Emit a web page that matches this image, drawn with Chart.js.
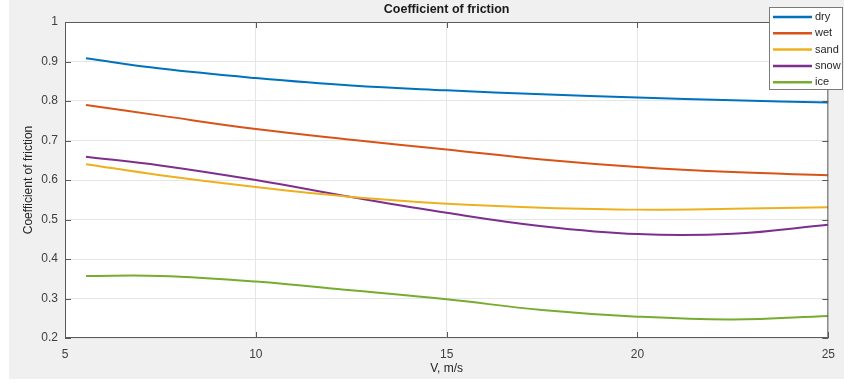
<!DOCTYPE html>
<html>
<head>
<meta charset="utf-8">
<script src="https://cdn.jsdelivr.net/npm/chart.js@4/dist/chart.umd.min.js"></script>
<style>
    html, body { margin: 0; padding: 0; background: #ffffff; }
    #wrap { position: relative; width: 844px; height: 385px; }
</style>
</head>
<body>
<div id="wrap"><canvas id="frictionChart" width="844" height="385"></canvas></div>
<script>
const speeds = [5.55, 7.5, 10, 12.5, 15, 17.5, 20, 22.5, 25];

// Coefficient of friction per surface
const dry  = [0.908, 0.882, 0.858, 0.839, 0.827, 0.817, 0.809, 0.802, 0.796];
const wet  = [0.790, 0.763, 0.729, 0.702, 0.677, 0.652, 0.633, 0.620, 0.612];
const sand = [0.640, 0.612, 0.582, 0.557, 0.540, 0.530, 0.525, 0.527, 0.531];
const snow = [0.659, 0.637, 0.600, 0.557, 0.517, 0.483, 0.463, 0.464, 0.487];
const ice  = [0.357, 0.357, 0.343, 0.321, 0.298, 0.271, 0.254, 0.247, 0.256];

const surfaces = ["dry", "wet", "sand", "snow", "ice"];
const surfaceColors = ["#0072BD", "#D95319", "#EDB120", "#7E2F8E", "#77AC30"];

// Axis ticks
const xTicks = [5, 10, 15, 20, 25];
const yTicks = [0.2, 0.3, 0.4, 0.5, 0.6, 0.7, 0.8, 0.9, 1];

const chartTitle = "Coefficient of friction";
const FONT = "'Liberation Sans', Arial, Helvetica, sans-serif";

function toPoints(values) {
    return values.map((v, i) => ({ x: speeds[i], y: v }));
}

const seriesValues = [dry, wet, sand, snow, ice];

// Matlab-like figure: grey frame, white axes, box with inward ticks, legend box
const matlabLook = {
    id: "matlabLook",
    beforeDraw(chart) {
        const { ctx, chartArea: a } = chart;
        ctx.save();
        ctx.fillStyle = "#ffffff";
        ctx.fillRect(0, 0, chart.width, chart.height);
        ctx.fillStyle = "#f0f0f0";
        ctx.fillRect(9, 0, chart.width - 9, 379);
        ctx.fillStyle = "#ffffff";
        ctx.fillRect(a.left, a.top, a.right - a.left, a.bottom - a.top);
        ctx.restore();
    },
    afterDraw(chart) {
        const { ctx, chartArea: a, scales } = chart;
        ctx.save();

        // box + inward ticks
        ctx.strokeStyle = "#5a5a5a";
        ctx.lineWidth = 1;
        ctx.beginPath();
        ctx.rect(a.left + 0.5, a.top + 0.5, a.right - a.left - 1, a.bottom - a.top - 1);
        xTicks.forEach(v => {
            const px = Math.round(scales.x.getPixelForValue(v)) + 0.5;
            ctx.moveTo(px, a.bottom); ctx.lineTo(px, a.bottom - 6);
            ctx.moveTo(px, a.top); ctx.lineTo(px, a.top + 6);
        });
        yTicks.forEach(v => {
            const py = Math.round(scales.y.getPixelForValue(v)) + 0.5;
            ctx.moveTo(a.left, py); ctx.lineTo(a.left + 6, py);
            ctx.moveTo(a.right, py); ctx.lineTo(a.right - 6, py);
        });
        ctx.stroke();

        // title over the axes
        ctx.fillStyle = "#1a1a1a";
        ctx.font = "bold 12.5px " + FONT;
        ctx.textAlign = "center";
        ctx.textBaseline = "middle";
        ctx.fillText(chartTitle, (a.left + a.right) / 2, 10);

        // legend box, top right, overlapping the axes
        const lx = 769, ly = 7, lw = 74, lh = 83;
        ctx.fillStyle = "#ffffff";
        ctx.fillRect(lx, ly, lw, lh);
        ctx.strokeStyle = "#7a7a7a";
        ctx.strokeRect(lx + 0.5, ly + 0.5, lw - 1, lh - 1);
        ctx.font = "11px " + FONT;
        ctx.textAlign = "left";
        chart.data.datasets.forEach((ds, i) => {
            const y = 17 + i * 16.3;
            ctx.strokeStyle = ds.borderColor;
            ctx.lineWidth = 2.5;
            ctx.beginPath();
            ctx.moveTo(773, y); ctx.lineTo(812, y);
            ctx.stroke();
            ctx.fillStyle = "#262626";
            ctx.fillText(ds.label, 815, y);
        });
        ctx.restore();
    }
};

const ctx = document.getElementById("frictionChart").getContext("2d");
new Chart(ctx, {
    type: "line",
    data: {
        datasets: surfaces.map((name, i) => ({
            label: name,
            data: toPoints(seriesValues[i]),
            borderColor: surfaceColors[i],
            borderWidth: 2,
            pointRadius: 0,
            fill: false,
            tension: 0.4
        }))
    },
    options: {
        responsive: false,
        animation: false,
        layout: { padding: { left: 0, top: 22, right: 8, bottom: 0 } },
        plugins: {
            legend: { display: false },
            title: { display: false },
            tooltip: { enabled: false }
        },
        scales: {
            x: {
                type: "linear",
                min: 5,
                max: 25,
                afterBuildTicks: s => { s.ticks = xTicks.map(v => ({ value: v })); },
                afterFit: s => { s.height = 47; },
                grid: { color: "#e6e6e6", drawTicks: false },
                border: { display: false },
                ticks: { color: "#404040", font: { family: FONT, size: 12 }, padding: 9, maxRotation: 0 },
                title: {
                    display: true,
                    text: "V, m/s",
                    color: "#262626",
                    font: { family: FONT, size: 12 },
                    padding: { top: 0, bottom: 9 }
                }
            },
            y: {
                min: 0.2,
                max: 1,
                afterBuildTicks: s => { s.ticks = yTicks.map(v => ({ value: v })); },
                afterFit: s => { s.width = 65; },
                grid: { color: "#e6e6e6", drawTicks: false },
                border: { display: false },
                ticks: {
                    color: "#404040",
                    font: { family: FONT, size: 12 },
                    padding: 7,
                    callback: v => String(+v.toFixed(1))
                },
                title: {
                    display: true,
                    text: "Coefficient of friction",
                    color: "#262626",
                    font: { family: FONT, size: 12 },
                    padding: { top: 21, bottom: 0 }
                }
            }
        }
    },
    plugins: [matlabLook]
});
</script>
</body>
</html>
